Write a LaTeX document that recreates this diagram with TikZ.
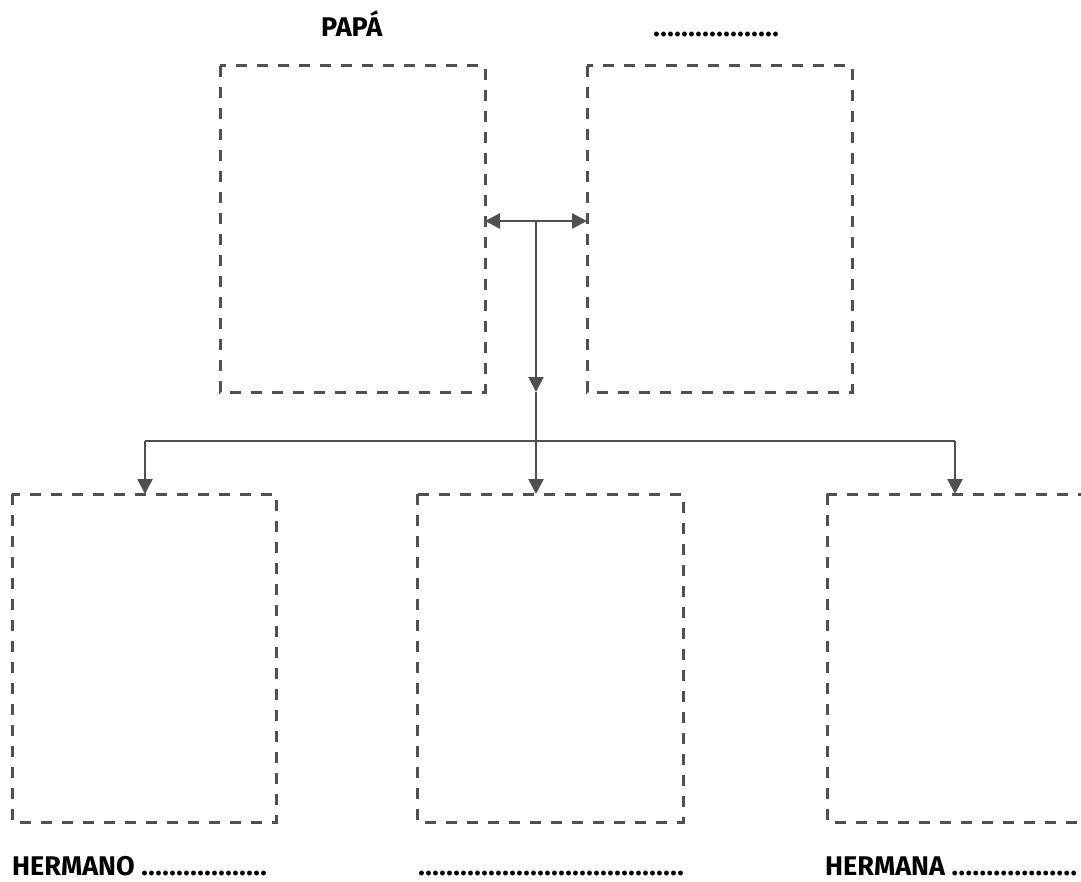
\documentclass[tikz,border=0pt]{standalone}
\usepackage{fontspec}
\setmainfont{Fira Sans}
\usetikzlibrary{arrows.meta}
\definecolor{ln}{HTML}{505050}
\newcommand{\dotrow}[1]{\hbox to #1{\leaders\hbox to 7pt{\hss.\hss}\hfill}}
\tikzset{
  box/.style={draw=ln, line width=3pt, dash pattern=on 11pt off 10pt},
  conn/.style={draw=ln, line width=2.6pt},
  tip/.style={-{Triangle[width=15pt,length=15pt]}},
  lbl/.style={font=\fontsize{27}{30}\selectfont\bfseries, text=black, inner sep=0pt, anchor=base west},
}
\begin{document}
\begin{tikzpicture}[x=1pt,y=-1pt]
\useasboundingbox (0,0) rectangle (1081,882);
\begin{scope}
\clip (0,0) rectangle (1081,882);
\draw[box] (220,66) rectangle (485,392);
\draw[box] (587,66) rectangle (852,392);
\draw[box] (12,494) rectangle (276,822);
\draw[box] (417,494) rectangle (683,822);
\draw[box] (827,494) rectangle (1092,822);
\end{scope}
\coordinate (tl) at (485,221);
\coordinate (tr) at (587,221);
\coordinate (j) at (536,221);
\coordinate (jb) at (536,392);
\coordinate (hl) at (145,441);
\coordinate (hr) at (955,441);
\coordinate (bl) at (145,494);
\coordinate (bm) at (536,494);
\coordinate (br) at (955,494);
\draw[conn,{Triangle[width=15pt,length=15pt]}-{Triangle[width=15pt,length=15pt]}] (tl) -- (tr);
\draw[conn,tip] (j) -- (jb);
\draw[conn,tip] (jb) -- (bm);
\draw[conn] (hl) -- (hr);
\draw[conn,tip] (hl) -- (bl);
\draw[conn,tip] (hr) -- (br);
\node[lbl] (papa) at (321,37) {PAPÁ};
\node[lbl] (dots) at (653,37) {\dotrow{130pt}};
\node[lbl] (hermano) at (12,875) {HERMANO \dotrow{128pt}};
\node[lbl] (mid) at (418,875) {\dotrow{266pt}};
\node[lbl] (hermana) at (825,875) {HERMANA \dotrow{128pt}};
\end{tikzpicture}
\end{document}
